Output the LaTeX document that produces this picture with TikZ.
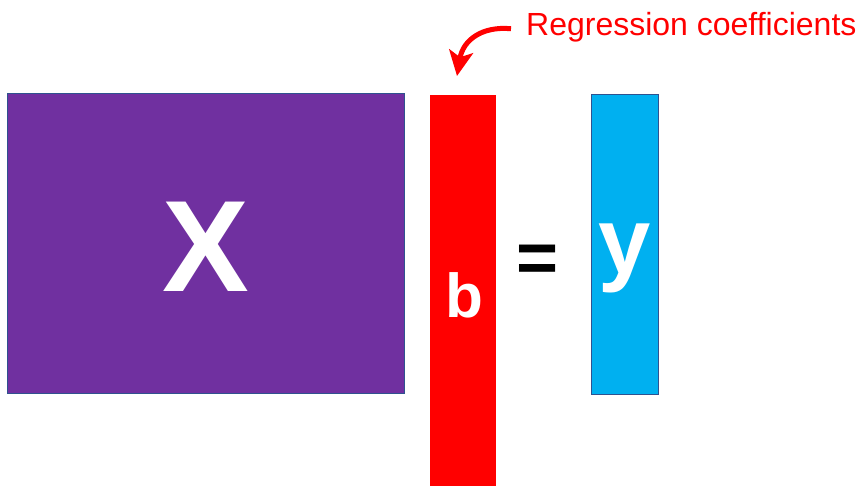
\documentclass[tikz,border=0pt]{standalone}
\usepackage{fontspec}
\setmainfont{Liberation Sans}
\usetikzlibrary{arrows.meta,positioning}
\definecolor{MatPurple}{HTML}{7030A0}
\definecolor{MatRed}{HTML}{FF0000}
\definecolor{MatBlue}{HTML}{00B0F0}
\definecolor{MatEdge}{HTML}{2F528F}

\begin{document}
\begin{tikzpicture}[x=1pt,y=-1pt,
  mat/.style={draw=MatEdge,line width=1pt,inner sep=0pt,outer sep=0pt},
  sym/.style={text=white,font=\bfseries\fontsize{#1}{#1}\selectfont,anchor=base,inner sep=0pt}]
\useasboundingbox (0,0) rectangle (860,486);
% matrices
\node[mat,fill=MatPurple,minimum width=397pt,minimum height=300pt] (X) at (205.5,244) {};
\node[inner sep=0pt,fill=MatRed,minimum width=66pt,minimum height=391pt] (b) at (463,290.5) {};
\node[mat,fill=MatBlue,minimum width=67pt,minimum height=300pt] (y) at (624.5,245) {};
% letters
\node[sym=130] (Xl) at (206,292) {X};
\node[sym=62] (bl) at (464.5,318) {b};
\node[sym=94] (yl) at (625,274) {y};
\node[font=\bfseries\fontsize{72}{72}\selectfont,inner sep=0pt] (eq) at (538,264) {=};
% label
\node[text=MatRed,font=\fontsize{32}{32}\selectfont,anchor=base west,inner sep=0pt] (coef) at (526,36) {Regression coefficients};
\coordinate (tip) at (457,76);
\draw[MatRed,line width=5pt,-{Stealth[length=25pt,width=24pt,inset=6pt]}]
  ([xshift=-15pt,yshift=-1pt]coef.west) .. controls (482,26) and (463,40) .. (tip);
\end{tikzpicture}
\end{document}
